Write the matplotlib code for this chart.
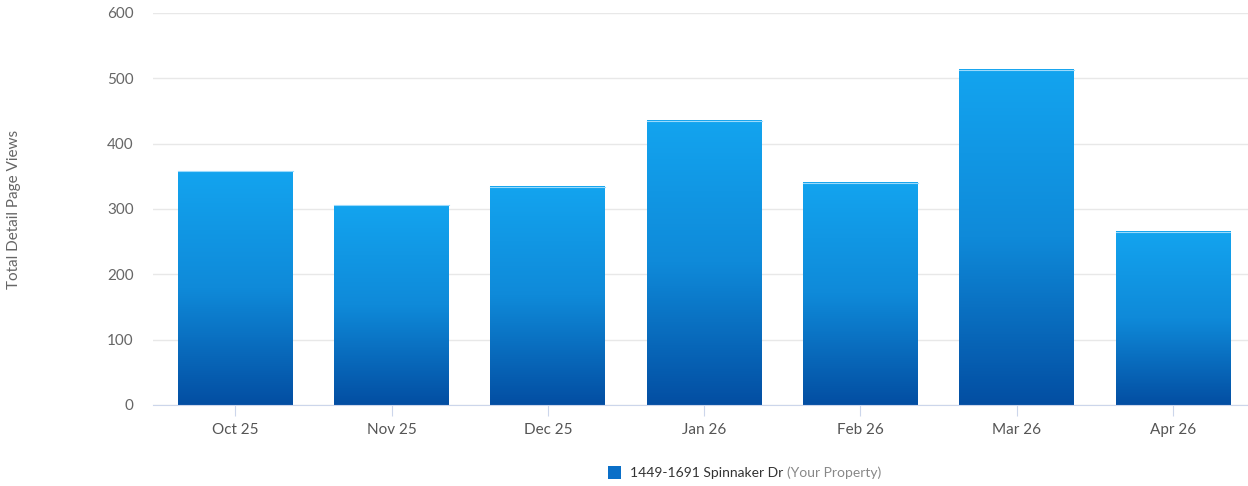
import numpy as np
import matplotlib.pyplot as plt
from matplotlib.colors import LinearSegmentedColormap
from matplotlib.patches import Rectangle

months = ["Oct 25", "Nov 25", "Dec 25", "Jan 26", "Feb 26", "Mar 26", "Apr 26"]
views = [358, 306, 334, 435, 340, 513, 265]
series_name = "1449-1691 Spinnaker Dr"
series_note = "(Your Property)"

plt.rcParams['font.family'] = ['Lato', 'DejaVu Sans']
grad = LinearSegmentedColormap.from_list("g", ["#034ea2", "#0f8ad9", "#13a4ef"])

fig = plt.figure(figsize=(12.48, 4.86), dpi=100)
ax = fig.add_axes([0.1226, 0.1667, 0.8774, 0.8066])

x = np.arange(len(months))
w = 0.735
bars = ax.bar(x, views, width=w, color="none", edgecolor="none", zorder=2)
g = np.linspace(0, 1, 256).reshape(-1, 1)
for b in bars:
    x0, y0 = b.get_x(), b.get_y()
    h = b.get_height()
    ax.imshow(g, cmap=grad, origin="lower", aspect="auto",
              extent=[x0, x0 + w, y0, y0 + h], zorder=2)
    ax.plot([x0, x0 + w], [h, h], color="#9bdafc", lw=0.8, zorder=3)

ax.set_xlim(-0.526, 6.48)
ax.set_ylim(0, 600)
ax.set_yticks(range(0, 601, 100))
ax.set_xticks(x)
ax.set_xticklabels(months)
ax.grid(axis="y", color="#e8e8e8", lw=1, zorder=0)
ax.set_axisbelow(True)
for s in ["top", "right", "left"]:
    ax.spines[s].set_visible(False)
ax.spines["bottom"].set_color("#ccd6eb")
ax.tick_params(axis="y", length=0, pad=14, labelsize=11, labelcolor="#666666")
ax.tick_params(axis="x", length=8, color="#ccd6eb", pad=5, labelsize=11, labelcolor="#555555")
ax.set_ylabel("Total Detail Page Views", fontsize=11, color="#666666", labelpad=62)

# legend
lx, ly = 608 / 1248, 1 - 479 / 486
fig.patches.append(Rectangle((lx, ly), 13 / 1248, 13 / 486, transform=fig.transFigure,
                             facecolor="#0a6fc8", edgecolor="none"))
t = fig.text(630 / 1248, 1 - 473 / 486, series_name, fontsize=10, color="#333333", va="center")
fig.canvas.draw()
bb = t.get_window_extent()
fig.text((bb.x1 + 4) / 1248, 1 - 473 / 486, series_note, fontsize=10, color="#888888", va="center")

fig.savefig("out.png", dpi=100)
